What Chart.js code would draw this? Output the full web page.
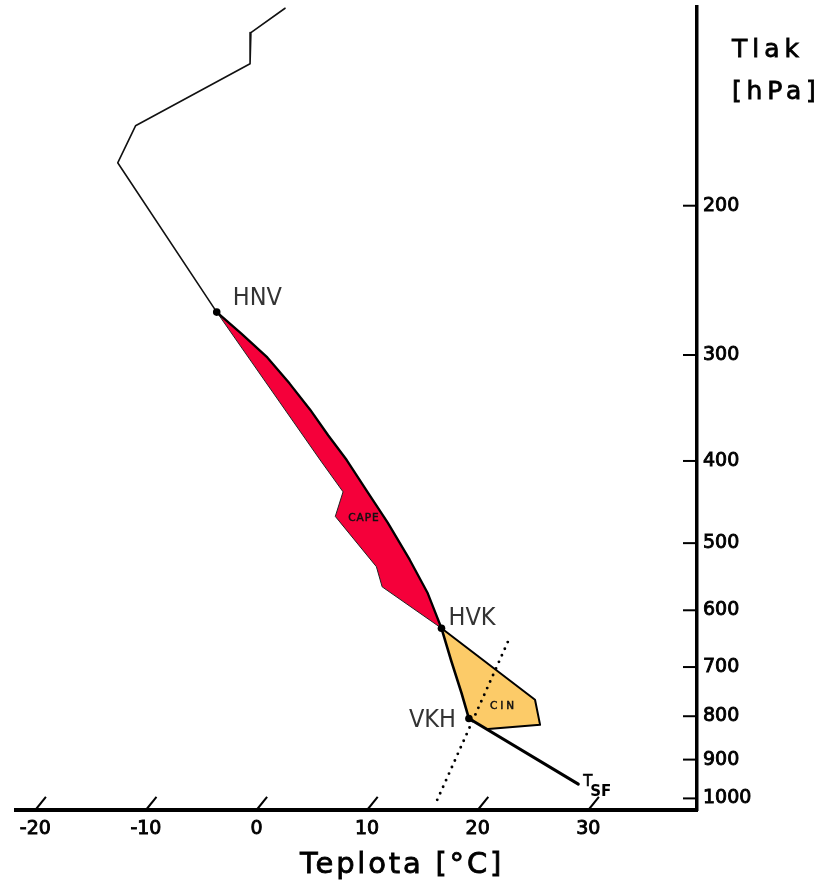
<!DOCTYPE html>
<html>
<head>
<meta charset="utf-8">
<title>CAPE a CIN</title>
<script src="https://cdn.jsdelivr.net/npm/chart.js"></script>
<style>
  html, body { margin: 0; padding: 0; background: #fff; }
  #wrap { position: relative; width: 822px; height: 886px; }
</style>
</head>
<body>
<div id="wrap"><canvas id="skewChart"></canvas></div>
<script>
// Sounding: temperature [°C] at pressure [hPa]
// environment, from the top of the diagram down to the surface
const envP = [117, 125, 136, 161, 178, 267, 399, 435, 465, 533, 563, 630, 765, 819, 828, 962];
const envT = [-56.2, -57.5, -55.3, -61.1, -60.0, -40.1, -19.9, -15.5, -14.4, -7.0, -5.0, 3.4, 17.1, 19.4, 15.0, 27.2];
// lifted parcel, from the surface (T_SF) up to HNV
const parcelP = [962, 805, 752, 687, 630, 573, 523, 473, 434, 399, 373, 348, 324, 302, 283, 267];
const parcelT = [27.2, 12.5, 10.0, 6.6, 3.4, -0.4, -4.5, -9.2, -13.4, -17.5, -21.0, -24.5, -28.3, -32.2, -36.3, -40.1];
// dotted line through VKH
const mixP = [1004, 643];
const mixT = [15.6, 10.2];

const tempTicks = [-20, -10, 0, 10, 20, 30];
const pressTicks = [200, 300, 400, 500, 600, 700, 800, 900, 1000];

// indices of the marked levels
const ENV_HNV = 5, ENV_HVK = 11, ENV_JOIN = 14;
const PAR_VKH = 1, PAR_HVK = 4, PAR_HNV = 15;

const P_BOTTOM = 1032, P_TOP = 116.6;
const SKEW = 27; // isotherms lean right by this many °C per e-fold of pressure

function skewX(t, p) { return t + SKEW * Math.log(P_BOTTOM / p); }
function toPts(ts, ps) { return ts.map((t, i) => ({ x: skewX(t, ps[i]), y: ps[i] })); }

const envPts = toPts(envT, envP);
const parcelPts = toPts(parcelT, parcelP);
const mixPts = toPts(mixT, mixP);

const capePts = envPts.slice(ENV_HNV, ENV_HVK + 1).concat(parcelPts.slice(PAR_HVK + 1, PAR_HNV));
const cinPts = envPts.slice(ENV_HVK, ENV_JOIN + 1).concat(parcelPts.slice(PAR_VKH, PAR_HVK));
const keyPts = [envPts[ENV_HNV], envPts[ENV_HVK], parcelPts[PAR_VKH]];

function line(data, width, color, order) {
    return {
        data: data, showLine: true, fill: false,
        borderColor: color, borderWidth: width,
        borderJoinStyle: 'round', borderCapStyle: 'round',
        pointRadius: 0, order: order
    };
}
function area(data, color) {
    return {
        data: data, showLine: true, fill: 'shape',
        backgroundColor: color, borderWidth: 0, borderColor: 'rgba(0,0,0,0)',
        pointRadius: 0, order: 30
    };
}

const datasets = [
    area(capePts, '#F5003A'),
    area(cinPts, '#FCCB68'),
    line(envPts.slice(0, ENV_HNV + 1), 1.6, '#111', 10),
    line(envPts.slice(ENV_HNV, ENV_HVK + 1), 1, '#222', 10),
    line(envPts.slice(ENV_HVK, ENV_JOIN + 1), 2, '#000', 10),
    line(parcelPts.slice(0, PAR_VKH + 1), 3, '#000', 9),
    line(parcelPts.slice(PAR_VKH, PAR_HVK + 1), 2.6, '#000', 9),
    line(parcelPts.slice(PAR_HVK), 2.3, '#000', 9),
    Object.assign(line(mixPts, 2.9, '#000', 8), { borderDash: [0, 7.2] }),
    { data: keyPts, showLine: false, pointRadius: 3.8, pointBackgroundColor: '#000', pointBorderWidth: 0, order: 1 }
];

function drawText(ctx, text, x, y, font, align, baseline, spacing, color, stroke) {
    ctx.font = font;
    ctx.textAlign = align;
    ctx.textBaseline = baseline;
    ctx.letterSpacing = spacing + 'px';
    ctx.fillStyle = color;
    ctx.fillText(text, x, y);
    if (stroke) {
        ctx.lineWidth = stroke;
        ctx.strokeStyle = color;
        ctx.strokeText(text, x, y);
    }
}

const skewAxes = {
    id: 'skewAxes',
    afterDraw(chart) {
        const { ctx, chartArea, scales: { x, y } } = chart;
        ctx.save();
        ctx.strokeStyle = '#000';
        ctx.lineWidth = 2;
        // pressure ticks point into the diagram
        pressTicks.forEach(p => {
            const py = y.getPixelForValue(p);
            ctx.beginPath();
            ctx.moveTo(chartArea.right - 14, py);
            ctx.lineTo(chartArea.right, py);
            ctx.stroke();
        });
        // temperature ticks are short pieces of the skewed isotherms
        tempTicks.forEach(t => {
            ctx.beginPath();
            ctx.moveTo(x.getPixelForValue(t), y.getPixelForValue(P_BOTTOM));
            ctx.lineTo(x.getPixelForValue(skewX(t, 996)), y.getPixelForValue(996));
            ctx.stroke();
        });

        const px = pt => x.getPixelForValue(pt.x);
        const py = pt => y.getPixelForValue(pt.y);
        const lab = '25px "Liberation Sans Narrow", "DejaVu Sans Condensed", "Liberation Sans", sans-serif';
        const hnv = envPts[ENV_HNV], hvk = envPts[ENV_HVK], vkh = parcelPts[PAR_VKH], sfc = parcelPts[0];
        drawText(ctx, 'HNV', px(hnv) + 16, py(hnv) - 14, lab, 'left', 'middle', 0, '#333');
        drawText(ctx, 'HVK', px(hvk) + 7, py(hvk) - 10, lab, 'left', 'middle', 0, '#333');
        drawText(ctx, 'VKH', px(vkh) - 13, py(vkh) + 2, lab, 'right', 'middle', 0, '#333');
        drawText(ctx, 'T', px(sfc) + 5, py(sfc) + 2, '15px "DejaVu Sans", sans-serif', 'left', 'alphabetic', 0, '#000', 0.6);
        drawText(ctx, 'SF', px(sfc) + 12, py(sfc) + 12, 'bold 15px "DejaVu Sans", sans-serif', 'left', 'alphabetic', 0, '#000');

        const capeAt = { x: skewX(-11.7, 467), y: 467 };
        const cinAt = { x: skewX(14.7, 778), y: 778 };
        drawText(ctx, 'CAPE', px(capeAt), py(capeAt), '10.5px "DejaVu Sans", sans-serif', 'center', 'middle', 1, '#111', 0.5);
        drawText(ctx, 'CIN', px(cinAt), py(cinAt), '10.5px "DejaVu Sans", sans-serif', 'center', 'middle', 2.9, '#111', 0.5);

        drawText(ctx, 'Tlak', 732, 57, '25px "DejaVu Sans", sans-serif', 'left', 'alphabetic', 5, '#000', 0.8);
        drawText(ctx, '[hPa]', 732, 99, '25px "DejaVu Sans", sans-serif', 'left', 'alphabetic', 4.8, '#000', 0.8);
        drawText(ctx, 'Teplota [°C]', 402, 873, '29px "DejaVu Sans", sans-serif', 'center', 'alphabetic', 2.8, '#000', 0.8);
        ctx.restore();
    }
};

const tickFont = { family: '"DejaVu Sans", sans-serif', size: 19 };

new Chart(document.getElementById('skewChart'), {
    type: 'scatter',
    data: { datasets: datasets },
    options: {
        responsive: true,
        maintainAspectRatio: false,
        animation: false,
        layout: { padding: { left: 16, right: 25, top: 7, bottom: 16 } },
        plugins: { legend: { display: false }, tooltip: { enabled: false } },
        scales: {
            x: {
                type: 'linear', position: 'bottom', bounds: 'data',
                min: (16 - 256.5) / 11.06, max: (697 - 256.5) / 11.06,
                grid: { drawOnChartArea: false, drawTicks: false },
                border: { display: true, color: '#000', width: 4 },
                ticks: { color: '#000', padding: 8, font: tickFont, textStrokeColor: '#000', textStrokeWidth: 0.9 },
                afterBuildTicks: s => { s.ticks = tempTicks.map(v => ({ value: v })); },
                afterFit: s => { s.height = 60; s.paddingLeft = 0; s.paddingRight = 0; }
            },
            y: {
                type: 'logarithmic', position: 'right', reverse: true, bounds: 'data',
                min: P_TOP, max: P_BOTTOM,
                grid: { drawOnChartArea: false, drawTicks: false },
                border: { display: true, color: '#000', width: 3.5 },
                ticks: { color: '#000', padding: 6, font: tickFont, textStrokeColor: '#000', textStrokeWidth: 0.9,
                         callback: v => String(v) },
                afterBuildTicks: s => { s.ticks = pressTicks.map(v => ({ value: v })); },
                afterFit: s => { s.width = 100; s.paddingTop = 0; s.paddingBottom = 0; }
            }
        }
    },
    plugins: [skewAxes]
});
</script>
</body>
</html>
